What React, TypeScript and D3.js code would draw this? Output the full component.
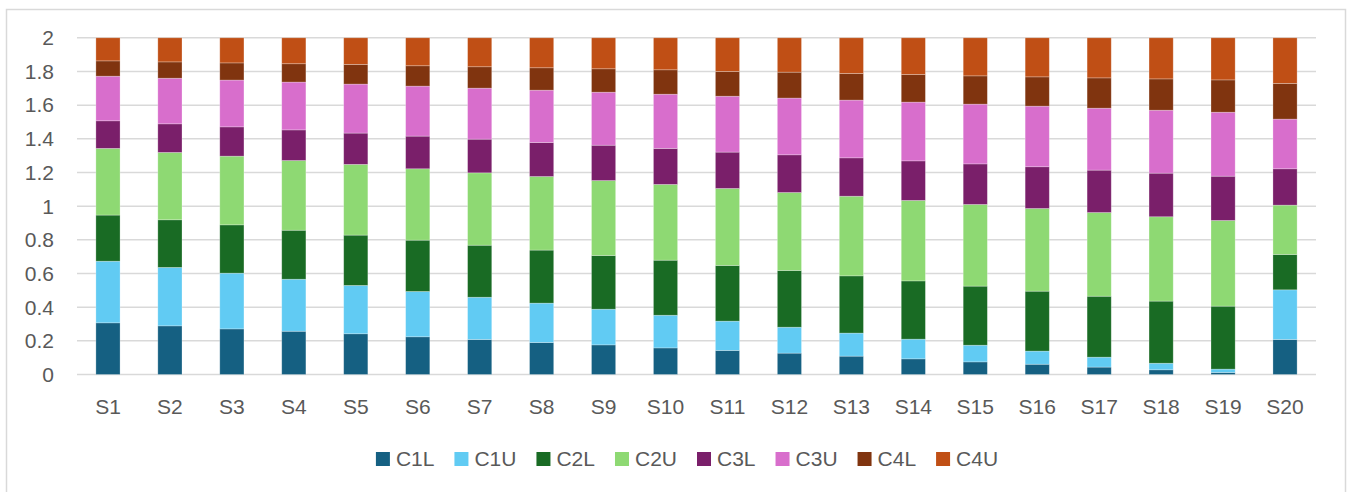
import React, { useEffect, useRef } from "react";
import * as d3 from "d3";

const categories = ["S1", "S2", "S3", "S4", "S5", "S6", "S7", "S8", "S9", "S10",
  "S11", "S12", "S13", "S14", "S15", "S16", "S17", "S18", "S19", "S20"];

const c1l = [0.307, 0.289, 0.271, 0.257, 0.242, 0.224, 0.208, 0.190, 0.176, 0.158,
  0.143, 0.127, 0.109, 0.093, 0.075, 0.061, 0.044, 0.028, 0.012, 0.208];
const c1u = [0.366, 0.347, 0.331, 0.309, 0.287, 0.269, 0.251, 0.234, 0.212, 0.194,
  0.174, 0.154, 0.137, 0.117, 0.099, 0.078, 0.059, 0.039, 0.020, 0.295];
const c2l = [0.274, 0.283, 0.287, 0.291, 0.299, 0.305, 0.309, 0.315, 0.319, 0.327,
  0.331, 0.337, 0.340, 0.346, 0.351, 0.356, 0.362, 0.369, 0.374, 0.210];
const c2u = [0.396, 0.400, 0.408, 0.414, 0.420, 0.424, 0.430, 0.437, 0.445, 0.450,
  0.457, 0.463, 0.473, 0.478, 0.485, 0.491, 0.497, 0.501, 0.509, 0.293];
const c3l = [0.164, 0.170, 0.174, 0.182, 0.186, 0.194, 0.200, 0.202, 0.210, 0.214,
  0.216, 0.224, 0.228, 0.235, 0.241, 0.248, 0.252, 0.259, 0.263, 0.216];
const c3u = [0.265, 0.271, 0.278, 0.284, 0.291, 0.297, 0.303, 0.311, 0.315, 0.322,
  0.332, 0.337, 0.343, 0.349, 0.355, 0.360, 0.368, 0.374, 0.380, 0.295];
const c4l = [0.091, 0.097, 0.102, 0.109, 0.117, 0.121, 0.127, 0.133, 0.139, 0.145,
  0.147, 0.154, 0.158, 0.164, 0.168, 0.174, 0.180, 0.186, 0.192, 0.212];
const c4u = [0.137, 0.143, 0.149, 0.154, 0.158, 0.166, 0.172, 0.178, 0.184, 0.190,
  0.200, 0.204, 0.212, 0.218, 0.226, 0.232, 0.238, 0.244, 0.250, 0.271];

const seriesNames = ["C1L", "C1U", "C2L", "C2U", "C3L", "C3U", "C4L", "C4U"];
const seriesValues = [c1l, c1u, c2l, c2u, c3l, c3u, c4l, c4u];
const colors = ["#156082", "#61CBF3", "#196B24", "#8ED973", "#7A1F6A", "#D86ECC", "#80340F", "#C04F15"];
const yTicks = [0, 0.2, 0.4, 0.6, 0.8, 1, 1.2, 1.4, 1.6, 1.8, 2];

const W = 1347;
const H = 492;
const textColor = "#595959";
const font = "Liberation Sans, Arial, sans-serif";

export default function App() {
  const ref = useRef<SVGSVGElement>(null);

  useEffect(() => {
    const svg = d3.select(ref.current);
    svg.selectAll("*").remove();

    const rows = categories.map((c, i) => {
      const r: any = { cat: c };
      seriesNames.forEach((s, k) => (r[s] = seriesValues[k][i]));
      return r;
    });
    const stacked = d3.stack().keys(seriesNames)(rows);

    const x = d3.scaleBand().domain(categories).range([77, 1316]).paddingInner(0.61).paddingOuter(0.305);
    const y = d3.scaleLinear().domain([0, 2]).range([374.5, 37.8]);

    // outer frame
    svg.append("rect")
      .attr("x", 6.5).attr("y", 9.5)
      .attr("width", 1339).attr("height", 500)
      .attr("fill", "none").attr("stroke", "#d9d9d9").attr("stroke-width", 1.5);

    // gridlines
    svg.append("g").selectAll("line")
      .data(yTicks).enter().append("line")
      .attr("x1", 77).attr("x2", 1316)
      .attr("y1", (d) => y(d)).attr("y2", (d) => y(d))
      .attr("stroke", "#d9d9d9").attr("stroke-width", 1.5);

    // y labels
    svg.append("g").selectAll("text")
      .data(yTicks).enter().append("text")
      .attr("x", 54).attr("y", (d) => y(d))
      .attr("text-anchor", "end")
      .attr("dy", "0.35em")
      .attr("fill", textColor)
      .style("font-family", font)
      .style("font-size", "21px")
      .text((d) => String(d));

    // bars
    svg.append("g").selectAll("g")
      .data(stacked).enter().append("g")
      .attr("fill", (d, i) => colors[i])
      .selectAll("rect")
      .data((d) => d).enter().append("rect")
      .attr("x", (d: any) => x(d.data.cat)!)
      .attr("width", x.bandwidth())
      .attr("y", (d) => y(d[1]))
      .attr("height", (d) => y(d[0]) - y(d[1]))
      .attr("stroke", "#ffffff").attr("stroke-opacity", 0.35).attr("stroke-width", 0.75);

    // x labels
    svg.append("g").selectAll("text")
      .data(categories).enter().append("text")
      .attr("x", (d) => x(d)! + x.bandwidth() / 2)
      .attr("y", 413.5)
      .attr("text-anchor", "middle")
      .attr("fill", textColor)
      .style("font-family", font)
      .style("font-size", "21px")
      .text((d) => d);

    // legend
    const legend = svg.append("g");
    const items = seriesNames.map((s, i) => {
      const g = legend.append("g");
      g.append("rect").attr("x", 0).attr("y", -7).attr("width", 14).attr("height", 14).attr("fill", colors[i]);
      const t = g.append("text")
        .attr("x", 20)
        .attr("y", 0)
        .attr("dy", "0.35em")
        .attr("fill", textColor)
        .style("font-family", font)
        .style("font-size", "21px")
        .text(s);
      const w = 20 + (t.node() as SVGTextElement).getComputedTextLength();
      return { g, w };
    });
    const gap = 20;
    const total = d3.sum(items, (d) => d.w) + gap * (items.length - 1);
    let cx = 687 - total / 2;
    items.forEach((it) => {
      it.g.attr("transform", `translate(${cx},459)`);
      cx += it.w + gap;
    });
  }, []);

  return (
    <svg ref={ref} width={W} height={H}
      style={{ position: "absolute", left: 0, top: 0, background: "#ffffff" }} />
  );
}
